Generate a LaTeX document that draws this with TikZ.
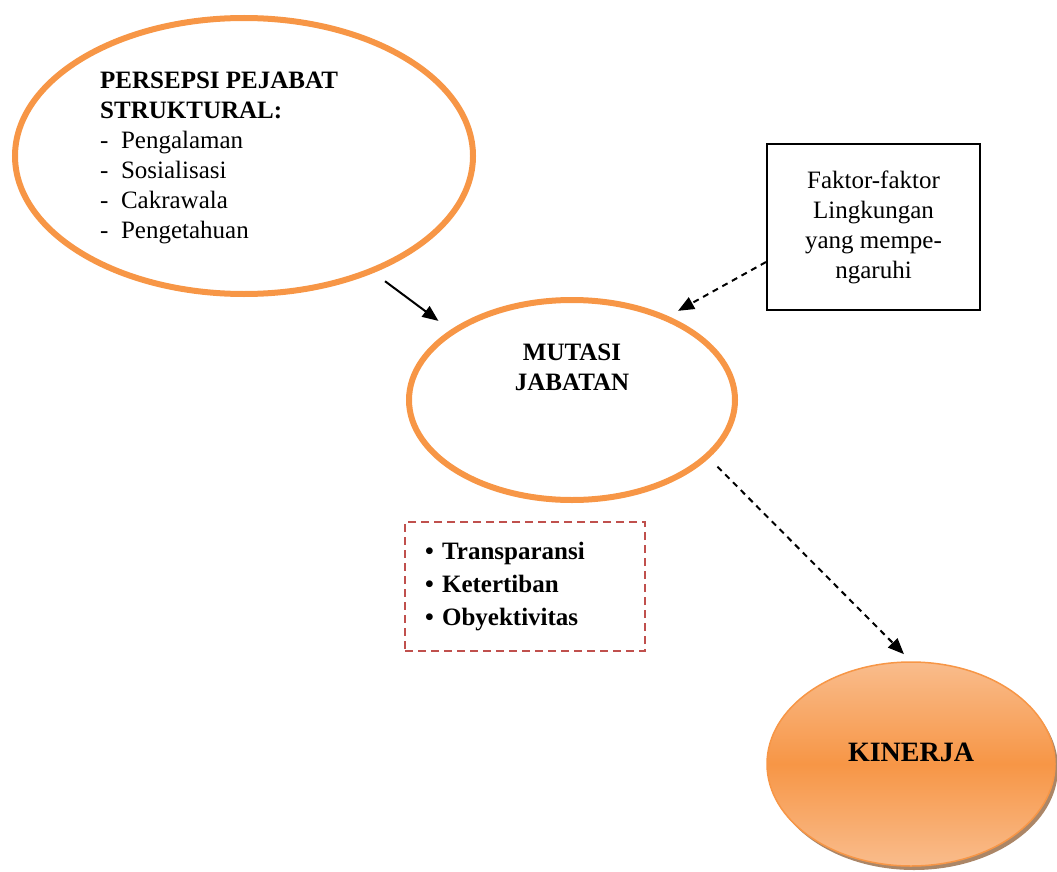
\documentclass[tikz,border=0pt]{standalone}
\usepackage{fontspec}
\setmainfont{Liberation Serif}
\definecolor{colorOrange}{HTML}{F79646}
\definecolor{colorOrangeLight}{HTML}{F9BC8C}
\definecolor{colorDash}{HTML}{C0504D}
\usetikzlibrary{arrows.meta, positioning, shapes.geometric, shadows}
\tikzset{bodyfont/.style={font=\fontsize{25}{30}\selectfont},
  oval/.style={ellipse, draw=colorOrange, line width=6pt},
  link/.style={->, line width=2pt},
  dashlink/.style={link, dash pattern=on 6pt off 5pt}}

\begin{document}
\begin{tikzpicture}[x=1pt, y=-1pt, >={Triangle[length=16pt,width=13pt]}, every node/.style={bodyfont}]
\useasboundingbox (0,0) rectangle (1057,872);
\node[oval, minimum width=458pt, minimum height=276pt] (persepsi) at (244,156) {};
\node[anchor=north west, align=left, inner sep=0pt] (persepsiText) at (100,72) {\textbf{PERSEPSI PEJABAT}\\\textbf{STRUKTURAL:}\\-\ \ Pengalaman\\-\ \ Sosialisasi\\-\ \ Cakrawala\\-\ \ Pengetahuan};
\node[oval, minimum width=326pt, minimum height=200pt] (mutasi) at (572,400) {};
\node[align=center, font=\fontsize{25}{30}\selectfont\bfseries] (mutasiText) at ([yshift=33pt]mutasi.center) {MUTASI\\JABATAN};
\node[draw, line width=2pt, minimum width=213pt, minimum height=166pt, align=center] (faktor) at (873.5,227) {Faktor-faktor\\Lingkungan\\yang mempe-\\ngaruhi};
\node[draw=colorDash, line width=2pt, dash pattern=on 8pt off 5pt, text width=200pt, inner xsep=20pt, minimum height=129pt, align=left, font=\fontsize{25}{33}\selectfont\bfseries] (kriteria) at (525,586.5) {\textbullet\ Transparansi\\\textbullet\ Ketertiban\\\textbullet\ Obyektivitas};
\node[ellipse, draw=colorOrange, line width=1.5pt, top color=colorOrangeLight, bottom color=colorOrangeLight, middle color=colorOrange, drop shadow={shadow xshift=3pt, shadow yshift=-4pt, fill=colorOrange!55!black, opacity=.7}, minimum width=288pt, minimum height=204pt] (kinerja) at (911,764) {};
\node[font=\fontsize{28}{34}\selectfont\bfseries] (kinerjaText) at ([yshift=12pt]kinerja.center) {KINERJA};
% arrows
\draw[link, shorten <=14pt, shorten >=15pt] (persepsi.-42) -- (mutasi.150);
\draw[dashlink, shorten >=11pt] ([yshift=-35pt]faktor.west) -- (mutasi.41);
\draw[dashlink, shorten <=12pt, shorten >=10pt] (mutasi.-23) -- (kinerja.north);
\end{tikzpicture}
\end{document}
